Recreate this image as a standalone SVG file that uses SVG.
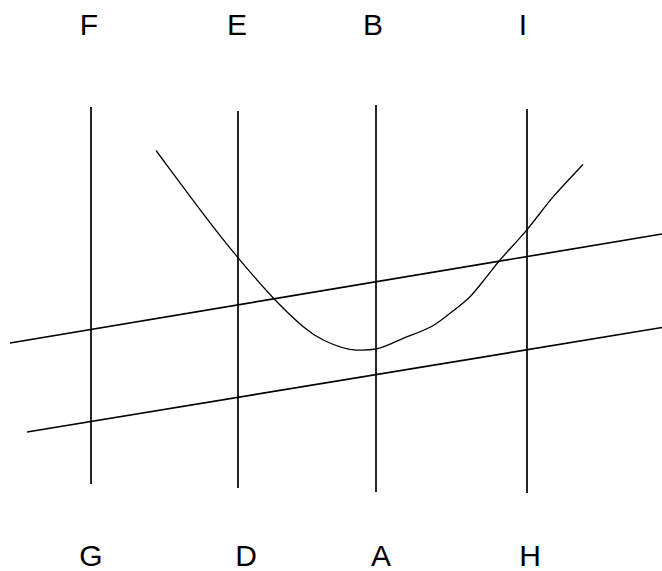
<svg xmlns="http://www.w3.org/2000/svg" width="662" height="571" viewBox="0 0 662 571">
<style>
.lbl{font-family:"Liberation Sans",Arial,sans-serif;font-size:30px;fill:#000;text-anchor:middle}
.ln{stroke:#000;stroke-width:1.7;fill:none}
.cv{stroke:#000;stroke-width:1.3;fill:none;stroke-linejoin:round}
</style>
<rect width="662" height="571" fill="#fff"/>
<g id="connectors">
<line class="ln" x1="91" y1="107" x2="91" y2="484"/>
<line class="ln" x1="238" y1="111" x2="238" y2="488"/>
<line class="ln" x1="376" y1="105" x2="376" y2="492"/>
<line class="ln" x1="527" y1="109" x2="527" y2="493"/>
<line class="ln" x1="10" y1="343" x2="662" y2="234"/>
<line class="ln" x1="27" y1="432" x2="662" y2="327.5"/>
<path class="cv" d="M156,150.5 C164.45,161.8 193.1,200.5 206.7,218.3 C220.3,236.1 226.6,244 237.7,257.3 C248.8,270.6 262.4,286.4 273.3,298 C284.2,309.6 295,319.7 303.3,326.7 C311.6,333.7 315.5,336.2 323.3,340 C331.1,343.8 341.2,347.8 350,349.3 C358.8,350.5 367.1,350.5 376,349 C384.9,347.2 394.3,341.9 403.3,338.3 C412.3,334.7 422.2,331.5 430,327.3 C437.8,323.1 443.3,318.4 450,313.3 C456.7,308.2 463.9,302.8 470,296.7 C476.1,290.6 481.7,282.8 486.7,276.7 C491.7,270.6 493.2,267.9 500,260 C506.8,252.1 518.4,239.9 527.3,229.3 C536.2,218.7 544,207.5 553.3,196.7 C562.6,185.9 578,169.9 583,164.5"/>
</g>
<g id="F"><text class="lbl" x="89" y="35">F</text></g>
<g id="E"><text class="lbl" x="237" y="35">E</text></g>
<g id="B"><text class="lbl" x="373" y="35">B</text></g>
<g id="I"><text class="lbl" x="523" y="35">I</text></g>
<g id="G"><text class="lbl" x="91" y="566">G</text></g>
<g id="D"><text class="lbl" x="246" y="566">D</text></g>
<g id="A"><text class="lbl" x="381" y="566">A</text></g>
<g id="H"><text class="lbl" x="530" y="566">H</text></g>
</svg>
